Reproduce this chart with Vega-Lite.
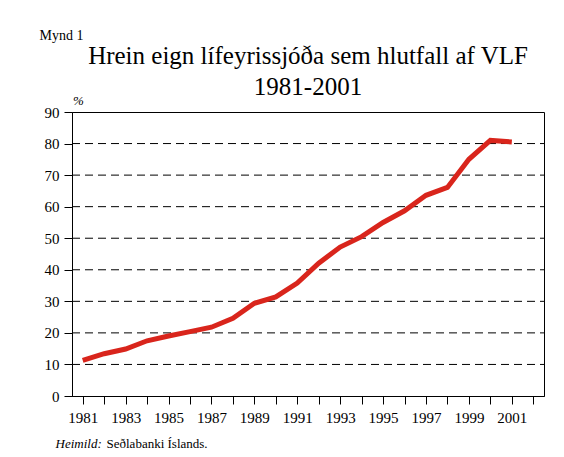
{
  "$schema": "https://vega.github.io/schema/vega-lite/v6.json",
  "width": 472,
  "height": 284,
  "autosize": {"type": "none"},
  "padding": {"left": 72, "top": 112, "right": 20, "bottom": 61},
  "background": "white",
  "config": {
    "font": "Liberation Serif",
    "view": {"stroke": "black", "strokeWidth": 1}
  },
  "title": {
    "text": ["Hrein eign lífeyrissjóða sem hlutfall af VLF", "1981-2001"],
    "font": "Liberation Serif",
    "fontSize": 25,
    "fontWeight": "normal",
    "color": "black",
    "anchor": "middle",
    "frame": "group",
    "lineHeight": 31,
    "offset": 7,
    "dy": 78
  },
  "datasets": {
    "series": [
      {"year": 1981, "value": 11.3},
      {"year": 1982, "value": 13.4},
      {"year": 1983, "value": 14.9},
      {"year": 1984, "value": 17.5},
      {"year": 1985, "value": 19.0},
      {"year": 1986, "value": 20.4},
      {"year": 1987, "value": 21.8},
      {"year": 1988, "value": 24.6},
      {"year": 1989, "value": 29.4},
      {"year": 1990, "value": 31.4},
      {"year": 1991, "value": 35.8},
      {"year": 1992, "value": 42.1},
      {"year": 1993, "value": 47.2},
      {"year": 1994, "value": 50.5},
      {"year": 1995, "value": 55.0},
      {"year": 1996, "value": 58.7},
      {"year": 1997, "value": 63.6},
      {"year": 1998, "value": 66.1},
      {"year": 1999, "value": 75.0},
      {"year": 2000, "value": 81.0},
      {"year": 2001, "value": 80.5}
    ],
    "grid": [
      {"level": 10}, {"level": 20}, {"level": 30}, {"level": 40},
      {"level": 50}, {"level": 60}, {"level": 70}, {"level": 80}
    ]
  },
  "resolve": {"axis": {"y": "independent", "x": "independent"}},
  "layer": [
    {
      "data": {"name": "grid"},
      "mark": {"type": "rule", "color": "black", "strokeWidth": 1, "strokeDash": [8, 5]},
      "encoding": {
        "x": {
          "datum": 1980.5,
          "type": "quantitative",
          "axis": {
            "orient": "top",
            "labels": false,
            "ticks": false,
            "domain": false,
            "grid": false,
            "title": "Heimild:",
            "titleX": -17,
            "titleY": 335,
            "titleAlign": "left",
            "titleAnchor": "start",
            "titleBaseline": "alphabetic",
            "titleFont": "Liberation Serif",
            "titleFontSize": 13,
            "titleFontStyle": "italic",
            "titleFontWeight": "normal",
            "titleColor": "black"
          }
        },
        "x2": {"datum": 2002.5},
        "y": {
          "field": "level",
          "type": "quantitative",
          "scale": {"domain": [0, 90], "nice": false, "zero": true},
          "axis": {
            "orient": "right",
            "labels": false,
            "ticks": false,
            "domain": false,
            "grid": false,
            "title": "Mynd 1",
            "titleAngle": 0,
            "titleX": -505,
            "titleY": -72.5,
            "titleAlign": "left",
            "titleBaseline": "alphabetic",
            "titleFont": "Liberation Serif",
            "titleFontSize": 14,
            "titleFontWeight": "normal",
            "titleColor": "black"
          }
        }
      }
    },
    {
      "data": {"name": "series"},
      "mark": {"type": "line", "color": "#d9251c", "strokeWidth": 5},
      "encoding": {
        "x": {
          "field": "year",
          "type": "quantitative",
          "scale": {"domain": [1980.5, 2002.5], "nice": false, "zero": false},
          "axis": {
            "orient": "bottom",
            "values": [1981, 1982, 1983, 1984, 1985, 1986, 1987, 1988, 1989, 1990, 1991, 1992, 1993, 1994, 1995, 1996, 1997, 1998, 1999, 2000, 2001, 2002],
            "format": "d",
            "labelExpr": "datum.value % 2 == 1 ? datum.label : ''",
            "labelFont": "Liberation Serif",
            "labelFontSize": 15,
            "labelColor": "black",
            "labelPadding": 6,
            "labelOverlap": false,
            "labelFlush": false,
            "tickSize": 8,
            "tickColor": "black",
            "domainColor": "black",
            "grid": false,
            "title": "Seðlabanki Íslands.",
            "titleX": 34,
            "titleY": 51,
            "titleAlign": "left",
            "titleAnchor": "start",
            "titleBaseline": "alphabetic",
            "titleFont": "Liberation Serif",
            "titleFontSize": 13,
            "titleFontWeight": "normal",
            "titleColor": "black"
          }
        },
        "y": {
          "field": "value",
          "type": "quantitative",
          "scale": {"domain": [0, 90], "nice": false, "zero": true},
          "axis": {
            "orient": "left",
            "values": [0, 10, 20, 30, 40, 50, 60, 70, 80, 90],
            "labelFont": "Liberation Serif",
            "labelFontSize": 15,
            "labelColor": "black",
            "labelPadding": 5,
            "labelFlush": false,
            "labelOverlap": false,
            "tickSize": 8,
            "tickColor": "black",
            "domainColor": "black",
            "grid": false,
            "title": "%",
            "titleAngle": 0,
            "titleX": 6,
            "titleY": -7.5,
            "titleAlign": "center",
            "titleBaseline": "alphabetic",
            "titleFont": "Liberation Serif",
            "titleFontSize": 13,
            "titleFontStyle": "italic",
            "titleFontWeight": "normal",
            "titleColor": "black"
          }
        }
      }
    }
  ]
}
